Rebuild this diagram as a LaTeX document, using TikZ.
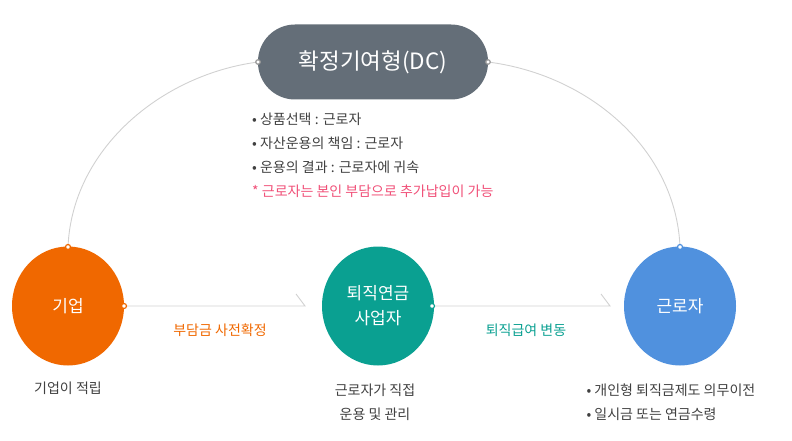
\documentclass[tikz,border=0pt]{standalone}
\usepackage{fontspec}
\setmainfont{Noto Sans CJK KR}
\usetikzlibrary{shapes.geometric}
\definecolor{cor}{RGB}{240,104,0}
\definecolor{cte}{RGB}{10,160,145}
\definecolor{cbl}{RGB}{80,145,222}
\definecolor{cgr}{RGB}{100,110,120}
\definecolor{cpk}{RGB}{240,80,120}
\begin{document}
\begin{tikzpicture}[x=1pt,y=-1pt,
  circ/.style={ellipse,minimum width=112pt,minimum height=119pt,inner sep=0pt,text=white,font=\fontsize{17}{25}\selectfont,align=center},
  dot/.style={circle,fill=white,draw=#1,line width=1.2pt,inner sep=0pt,minimum size=5pt},
  grey/.style={draw=black!18,line width=0.9pt},
  txt/.style={text=black!75,font=\fontsize{14}{24}\selectfont,align=left}]
\useasboundingbox (0,0) rectangle (792,441);
\node[circ,fill=cor] (a) at (68,306) {기업};
\node[circ,fill=cte] (b) at (378,306) {퇴직연금\\사업자};
\node[circ,fill=cbl] (c) at (680,306) {근로자};
\node[rounded corners=37pt,fill=cgr,minimum width=230pt,minimum height=75pt,text=white,font=\fontsize{22.5}{26}\selectfont] (t) at (373,62) {확정기여형(DC)};
\coordinate (tl) at (258,62); \coordinate (tr) at (488,62);
\coordinate (at) at (68,247); \coordinate (ar) at (124,306);
\coordinate (bl) at (305,306); \coordinate (br) at (432,306);
\coordinate (cl) at (610,306); \coordinate (ct) at (680,247);
\draw[grey] (at) .. controls (72,150) and (160,75) .. (tl);
\draw[grey] (tr) .. controls (590,75) and (676,150) .. (ct);
\draw[grey] (ar) -- (bl) -- (296,294);
\draw[grey] (br) -- (cl) -- (601,294);
\node[dot=cor] at (at) {};
\node[dot=cor] at (ar) {};
\node[dot=cte] at (br) {};
\node[dot=cbl] at (ct) {};
\node[dot=black!40,minimum size=4.5pt] at (tl) {};
\node[dot=black!40,minimum size=4.5pt] at (tr) {};
\node[txt,anchor=north west,inner sep=0pt] (d) at (252,113) {• 상품선택 : 근로자\\• 자산운용의 책임 : 근로자\\• 운용의 결과 : 근로자에 귀속\\\textcolor{cpk}{* 근로자는 본인 부담으로 추가납입이 가능}};
\node[font=\fontsize{14}{16}\selectfont,text=cor] (l1) at (220,330) {부담금 사전확정};
\node[font=\fontsize{14}{16}\selectfont,text=cte] (l2) at (526,330) {퇴직급여 변동};
\node[txt] (s1) at (68,388) {기업이 적립};
\node[txt,align=center] (s2) at (375,402) {근로자가 직접\\운용 및 관리};
\node[txt,anchor=west] (s3) at (583,402) {• 개인형 퇴직금제도 의무이전\\• 일시금 또는 연금수령};
\end{tikzpicture}
\end{document}
